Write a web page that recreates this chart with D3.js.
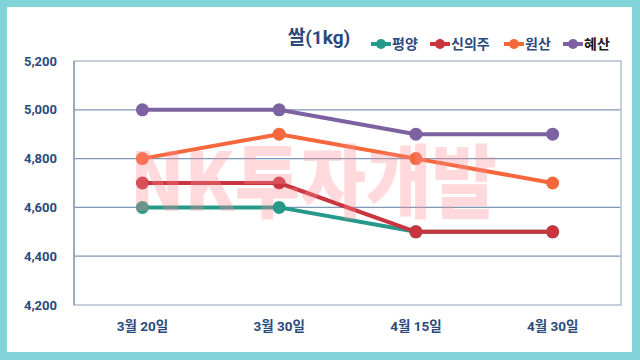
<!DOCTYPE html>
<html><head><meta charset="utf-8">
<script src="https://cdn.jsdelivr.net/npm/d3@7"></script>
<style>html,body{margin:0;padding:0;background:#80d4d8;}svg{display:block;}</style>
</head><body>
<svg id="c" width="640" height="360"></svg>
<script>
const categories = ["3월 20일", "3월 30일", "4월 15일", "4월 30일"];
const seriesNames = ["평양", "신의주", "원산", "혜산"];
const pyongyang = [4600, 4600, 4500, 4500];
const sinuiju = [4700, 4700, 4500, 4500];
const wonsan = [4800, 4900, 4800, 4700];
const hyesan = [5000, 5000, 4900, 4900];
const yTicks = [4200, 4400, 4600, 4800, 5000, 5200];
const colors = ["#26998a", "#c9353f", "#f4683c", "#7d62a1"];
const series = [pyongyang, sinuiju, wonsan, hyesan];

const svg = d3.select("#c");
const font = "Roboto, 'Noto Sans CJK KR', sans-serif";
const navy = "#2b4a7c";

svg.append("rect").attr("x", 0).attr("y", 0).attr("width", 640).attr("height", 360).attr("fill", "#80d4d8");
svg.append("rect").attr("x", 7).attr("y", 7).attr("width", 625).attr("height", 345).attr("fill", "#fff");

const L = 74, R = 621, T = 61, B = 305;
const x = d3.scaleBand().domain(categories).range([L, R]);
const y = d3.scaleLinear().domain([4200, 5200]).range([B, T]);

// gridlines
svg.append("g").selectAll("line").data(yTicks.slice(1, -1)).join("line")
  .attr("x1", L).attr("x2", R).attr("y1", d => y(d)).attr("y2", d => y(d))
  .attr("stroke", "#7f98b8").attr("stroke-width", 1.2);

// frame
svg.append("rect").attr("x", L).attr("y", T).attr("width", R - L).attr("height", B - T)
  .attr("fill", "none").attr("stroke", "#b3bfcf").attr("stroke-width", 1.5);
svg.append("line").attr("x1", L).attr("x2", L).attr("y1", T).attr("y2", B).attr("stroke", "#6f88a8").attr("stroke-width", 1);

// y axis labels
const yAxis = d3.axisLeft(y).tickValues(yTicks).tickSize(0).tickPadding(17).tickFormat(d3.format(","));
const gy = svg.append("g").attr("transform", `translate(${L},0)`).call(yAxis);
gy.select(".domain").remove();
gy.selectAll("text").attr("font-family", font).attr("font-weight", "bold").attr("font-size", 13).attr("fill", navy);

// x axis labels
const xAxis = d3.axisBottom(x).tickSize(0).tickPadding(16);
const gx = svg.append("g").attr("transform", `translate(0,${B})`).call(xAxis);
gx.select(".domain").remove();
gx.selectAll("text").attr("font-family", font).attr("font-weight", "bold").attr("font-size", 13.5).attr("fill", navy);

// lines
const line = d3.line().x((d, i) => x(categories[i]) + x.bandwidth() / 2).y(d => y(d));
series.forEach((s, k) => {
  svg.append("path").datum(s).attr("d", line).attr("fill", "none")
    .attr("stroke", colors[k]).attr("stroke-width", 4).attr("stroke-linejoin", "round");
  svg.append("g").selectAll("circle").data(s).join("circle")
    .attr("cx", (d, i) => x(categories[i]) + x.bandwidth() / 2).attr("cy", d => y(d))
    .attr("r", 6.5).attr("fill", colors[k]);
});

// watermark
svg.append("text").attr("x", 130).attr("y", 211).text("NK투자개발")
  .attr("font-family", "'Noto Sans CJK KR', sans-serif").attr("font-weight", 900)
  .attr("font-size", 80).attr("textLength", 367).attr("lengthAdjust", "spacingAndGlyphs")
  .attr("fill", "#ff8a92").attr("opacity", 0.32);

// title
svg.append("text").attr("x", 319).attr("y", 44).attr("text-anchor", "middle").text("쌀(1kg)")
  .attr("font-family", font).attr("font-weight", "bold").attr("font-size", 19).attr("fill", navy);

// legend
const legX = [371, 430, 504, 563];
seriesNames.forEach((n, k) => {
  const g = svg.append("g").attr("transform", `translate(${legX[k]},44)`);
  g.append("line").attr("x1", 0).attr("x2", 20).attr("y1", 0).attr("y2", 0).attr("stroke", colors[k]).attr("stroke-width", 4);
  g.append("circle").attr("cx", 10).attr("cy", 0).attr("r", 5).attr("fill", colors[k]);
  g.append("text").attr("x", 21).attr("y", 5).text(n)
    .attr("font-family", font).attr("font-weight", "bold").attr("font-size", 14)
    .attr("fill", k === 3 ? "#1a1a1a" : navy);
});
</script>
</body></html>
